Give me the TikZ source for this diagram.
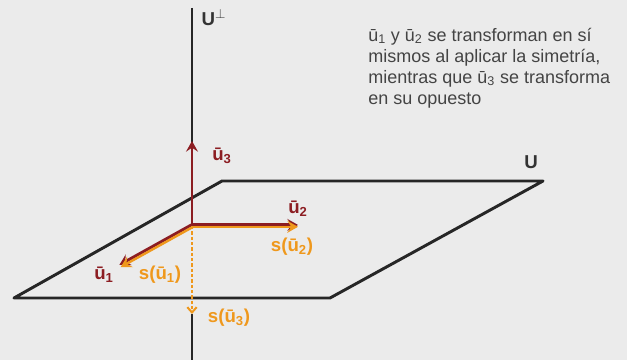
\documentclass[tikz,border=0pt]{standalone}
\usepackage{fontspec}
\setmainfont{Liberation Sans}
\usetikzlibrary{arrows.meta, positioning}
\definecolor{vecred}{HTML}{8C1D22}
\definecolor{vecorange}{HTML}{EF981C}
\definecolor{bggray}{HTML}{EBEBEB}
\definecolor{txtgray}{HTML}{444444}

\begin{document}
\begin{tikzpicture}[x=0.75pt, y=-0.75pt, >={Stealth[length=8pt, width=9pt, inset=3pt]},
    vec/.style={->, line width=2.2pt},
    lbl/.style={font=\bfseries\fontsize{14}{16}\selectfont, inner sep=0pt},
    plane/.style={line width=2.2pt, black!85, line join=round}]
    \fill[bggray] (0,0) rectangle (627,360);
    \useasboundingbox (0,0) rectangle (627,360);

    % plane U
    \coordinate (p1) at (14,298);
    \coordinate (p2) at (222,181);
    \coordinate (p3) at (543,181);
    \coordinate (p4) at (330,298);
    \draw[plane] (p1) -- (p2) -- (p3) -- (p4) -- cycle;
    \node[lbl, text=black!80] (uplane) at (531,162) {U};

    % axis U^perp (cut where s(u3) runs)
    \coordinate (o) at (192,226);
    \coordinate (s3tip) at (192,314);
    \coordinate (axtop) at (192,8);
    \coordinate (axbot) at (192,360);
    \draw[line width=1.1pt, black!85] (axtop) -- (o);
    \draw[line width=1.1pt, black!85] (s3tip) -- (axbot);
    \node[lbl, text=black!80] (uperp) at (214,17) {U$^{\perp}$};

    % vectors
    \coordinate (u3tip) at (192,141);
    \coordinate (u2tip) at (298,226);
    \coordinate (u1tip) at (120,266);
    \draw[vec, vecred] (o) -- (u3tip);
    \draw[vec, vecred] ([yshift=0.8pt]o) -- ([yshift=0.8pt]u2tip);
    \draw[vec, vecorange, line width=1.8pt] ([yshift=-0.6pt]o) -- ([yshift=-0.6pt]u2tip);
    \draw[vec, vecred] ([shift={(-0.5pt,0.8pt)}]o) -- ([shift={(-0.5pt,0.8pt)}]u1tip);
    \draw[vec, vecorange, line width=1.8pt] ([shift={(0.5pt,-0.8pt)}]o) -- ([shift={(0.5pt,-0.8pt)}]u1tip);
    \draw[-{Straight Barb[length=4pt, width=7pt]}, vecorange, line width=1.5pt,
          dash pattern=on 2.5pt off 1.5pt] (o) -- (s3tip);

    % labels
    \node[lbl, text=vecred] (u3) at (222,156) {ū\textsubscript{3}};
    \node[lbl, text=vecred] (u2) at (298,209) {ū\textsubscript{2}};
    \node[lbl, text=vecorange] (s2) at (292,247) {s(ū\textsubscript{2})};
    \node[lbl, text=vecred] (u1) at (104,275) {ū\textsubscript{1}};
    \node[lbl, text=vecorange] (s1) at (160,275) {s(ū\textsubscript{1})};
    \node[lbl, text=vecorange] (s3) at (229,318) {s(ū\textsubscript{3})};

    % note
    \node[anchor=base west, align=left, inner sep=0pt, text=txtgray,
          font=\fontsize{13.5}{15.75}\selectfont] (note) at (368,104)
        {ū\textsubscript{1} y ū\textsubscript{2} se transforman en sí\\
         mismos al aplicar la simetría,\\
         mientras que ū\textsubscript{3} se transforma\\
         en su opuesto};
\end{tikzpicture}
\end{document}
